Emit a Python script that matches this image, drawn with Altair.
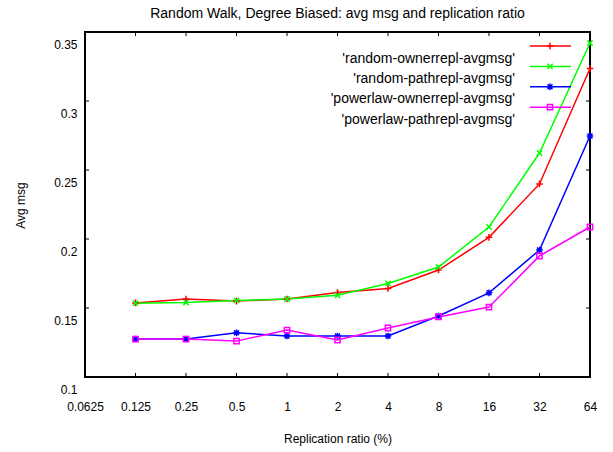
import altair as alt
import pandas as pd

# ---- data ----
ratios = [0.125, 0.25, 0.5, 1, 2, 4, 8, 16, 32, 64]
random_ownerrepl = [0.1537, 0.1565, 0.155, 0.1565, 0.1612, 0.1642, 0.1775, 0.2012, 0.2399, 0.3235]
random_pathrepl = [0.1535, 0.1540, 0.1555, 0.1565, 0.1592, 0.1678, 0.1797, 0.2087, 0.2623, 0.342]
powerlaw_ownerrepl = [0.1275, 0.1275, 0.132, 0.1297, 0.1297, 0.1297, 0.1442, 0.161, 0.192, 0.2746]
powerlaw_pathrepl = [0.1275, 0.1275, 0.126, 0.134, 0.1268, 0.1355, 0.1435, 0.1507, 0.1877, 0.2087]

series_names = ["'random-ownerrepl-avgmsg'", "'random-pathrepl-avgmsg'",
                "'powerlaw-ownerrepl-avgmsg'", "'powerlaw-pathrepl-avgmsg'"]
series_values = [random_ownerrepl, random_pathrepl, powerlaw_ownerrepl, powerlaw_pathrepl]
colors = ["#ff0000", "#00ff00", "#0000ff", "#ff00ff"]
shapes = ["M-1,0L1,0M0,-1L0,1",
          "M-0.8,-0.8L0.8,0.8M-0.8,0.8L0.8,-0.8",
          "M-1,0L1,0M0,-1L0,1M-0.75,-0.75L0.75,0.75M-0.75,0.75L0.75,-0.75",
          "M-0.8,-0.8L0.8,-0.8L0.8,0.8L-0.8,0.8Z"]

x_ticks = [0.0625, 0.125, 0.25, 0.5, 1, 2, 4, 8, 16, 32, 64]
y_ticks = [0.1, 0.15, 0.2, 0.25, 0.3, 0.35]

FONT = "Liberation Sans"
W, H = 505, 345

rows = []
for name, vals in zip(series_names, series_values):
    for r, v in zip(ratios, vals):
        rows.append({"series": name, "ratio": r, "value": v})
df = pd.DataFrame(rows)

color_enc = alt.Color("series:N", scale=alt.Scale(domain=series_names, range=colors), legend=None)
shape_enc = alt.Shape("series:N", scale=alt.Scale(domain=series_names, range=shapes), legend=None)

x_enc = alt.X("ratio:Q",
              scale=alt.Scale(type="log", base=2, domain=[0.0625, 64], nice=False),
              axis=alt.Axis(values=x_ticks, labelExpr="datum.value + ''", labelPadding=24,
                            labelOverlap=False, labelBound=False, labelFlush=False,
                            labelFontSize=12, labelFont=FONT, labelColor="black",
                            title="Replication ratio (%)", titleFont=FONT, titleFontSize=12,
                            titleFontWeight="normal", titleColor="black",
                            titleX=W / 2, titleY=61, titleBaseline="middle"),
              )
y_enc = alt.Y("value:Q",
              scale=alt.Scale(domain=[0.1, 0.35], nice=False, zero=False),
              axis=alt.Axis(values=y_ticks, labelExpr="datum.value + ''",
                            labelPadding=8, labelOffset=12,
                            labelOverlap=False, labelBound=False, labelFlush=False,
                            labelFontSize=12, labelFont=FONT, labelColor="black",
                            title="Avg msg", titleFont=FONT, titleFontSize=12,
                            titleFontWeight="normal", titleColor="black",
                            titleX=-65, titleY=173, titleAngle=-90,
                            titleBaseline="middle", titleAlign="center"))

base = alt.Chart(df)
lines = base.mark_line(strokeWidth=1.5).encode(x=x_enc, y=y_enc, color=color_enc, detail="series:N")
points = base.mark_point(filled=False, size=44, strokeWidth=1.5, opacity=1).encode(
    x="ratio:Q", y="value:Q", color=color_enc, shape=shape_enc)

# inward ticks (gnuplot style) on all four sides
xt = pd.DataFrame({"ratio": x_ticks})
yt = pd.DataFrame({"value": y_ticks})
tick_style = dict(color="black", strokeWidth=1)
bottom_ticks = alt.Chart(xt).mark_rule(**tick_style).encode(
    x="ratio:Q", y=alt.value(H), y2=alt.value(H - 4))
top_ticks = alt.Chart(xt).mark_rule(**tick_style).encode(
    x="ratio:Q", y=alt.value(0), y2=alt.value(4))
left_ticks = alt.Chart(yt).mark_rule(**tick_style).encode(
    y="value:Q", x=alt.value(0), x2=alt.value(4))
right_ticks = alt.Chart(yt).mark_rule(**tick_style).encode(
    y="value:Q", x=alt.value(W), x2=alt.value(W - 4))

# manual legend (labels left of keys, as in the reference)
leg = pd.DataFrame({"series": series_names, "order": list(range(len(series_names)))})
leg_base = alt.Chart(leg).transform_calculate(
    ky="14 + 20.4 * datum.order", ly="26.5 + 20.4 * datum.order")
leg_lines = leg_base.mark_rule(strokeWidth=1.5).encode(
    x=alt.value(445), x2=alt.value(486),
    y=alt.Y("ky:Q", scale=None, axis=None), color=color_enc)
leg_points = leg_base.mark_point(filled=False, size=44, strokeWidth=1.5, opacity=1).encode(
    x=alt.value(465), y=alt.Y("ky:Q", scale=None, axis=None), color=color_enc, shape=shape_enc)
leg_text = leg_base.mark_text(align="right", baseline="middle", font=FONT, fontSize=14,
                              color="black").encode(
    x=alt.value(430), y=alt.Y("ly:Q", scale=None, axis=None), text="series:N")

chart = alt.layer(
    lines, points, bottom_ticks, top_ticks, left_ticks, right_ticks,
    leg_lines, leg_points, leg_text
).properties(
    width=W, height=H,
    title=alt.TitleParams("Random Walk, Degree Biased: avg msg and replication ratio",
                          font=FONT, fontSize=14, fontWeight="normal", color="black",
                          anchor="middle", offset=11),
    autosize=alt.AutoSizeParams(type="none"),
    padding={"left": 85, "top": 32, "right": 23, "bottom": 75},
    background="white",
).configure_view(
    stroke="black", strokeWidth=2
).configure_axis(
    domain=False, ticks=False, grid=False
)

chart.save("out.html", embed_options={"renderer": "svg", "actions": False})
